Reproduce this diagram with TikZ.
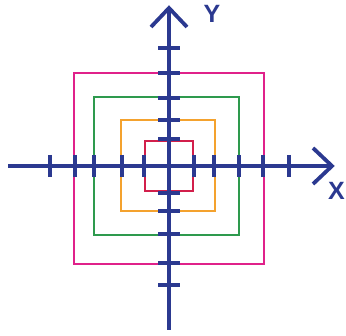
\documentclass[tikz,border=0pt]{standalone}
\usepackage{fontspec}
\setmainfont{Liberation Sans}
\definecolor{axisblue}{HTML}{2B3990}
\definecolor{sqmagenta}{HTML}{E0218A}
\definecolor{sqgreen}{HTML}{2E9A4E}
\definecolor{sqorange}{HTML}{F4A22E}
\definecolor{sqred}{HTML}{D21F4B}
\begin{document}
\begin{tikzpicture}[x=1pt,y=-1pt,
  axisline/.style={draw=axisblue,line width=3.8pt},
  tickmark/.style={draw=axisblue,line width=3.2pt},
  square/.style={line width=2.4pt},
  axislabel/.style={text=axisblue,font=\fontsize{25}{25}\selectfont\bfseries,inner sep=0pt}]
\useasboundingbox (0,0) rectangle (346,336);
% squares
\draw[square,draw=sqmagenta] (74,73) rectangle (264,264);
\draw[square,draw=sqgreen] (94,97) rectangle (239,235);
\draw[square,draw=sqorange] (121,120) rectangle (215,211);
\draw[square,draw=sqred] (145,141) rectangle (193,191);
% axes
\coordinate (xl) at (8,166);
\coordinate (xr) at (332,166);
\coordinate (yt) at (169,8);
\coordinate (yb) at (169,330);
\draw[axisline] (xl) -- (xr);
\draw[axisline] (yb) -- (yt);
\draw[axisline,line join=miter] (313,148) -- (xr) -- (313,184);
\draw[axisline,line join=miter] (151,27) -- (yt) -- (187,27);
% ticks
\foreach \t in {50,75,94,122,144,194,214,239,263,289}
  \draw[tickmark] (\t,155) -- (\t,177);
\foreach \t in {48,73,98,120,139,193,211,234,263,285}
  \draw[tickmark] (158,\t) -- (180,\t);
% labels
\node[axislabel] (ylab) at (212,14) {Y};
\node[axislabel] (xlab) at (336.5,191) {X};
\end{tikzpicture}
\end{document}
